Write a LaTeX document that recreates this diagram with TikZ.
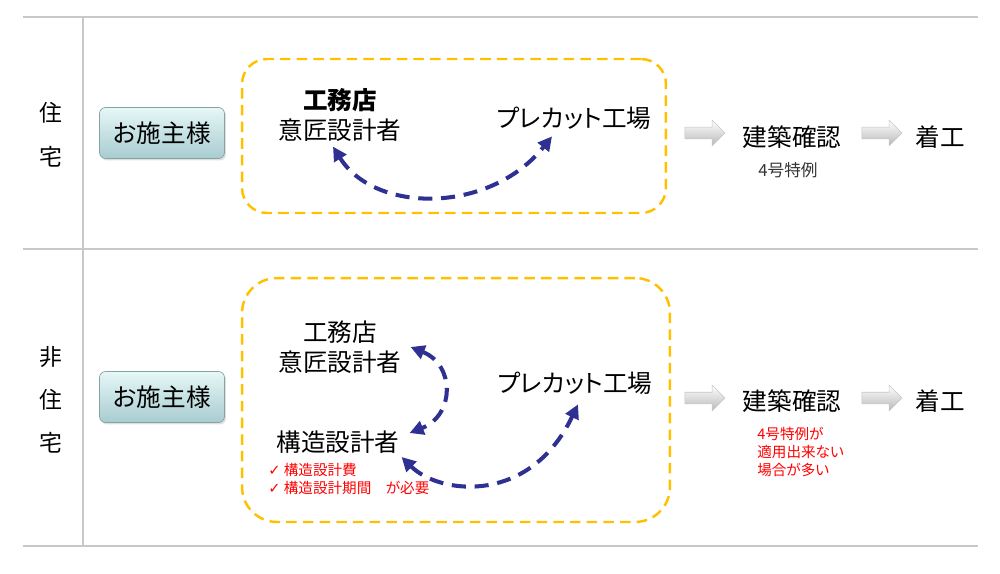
\documentclass[tikz,border=0pt]{standalone}
\usepackage{fontspec}
\setmainfont[RawFeature=+palt]{Noto Sans CJK JP}
\newfontfamily\chkfont{DejaVu Sans}
\usetikzlibrary{arrows.meta, shapes.arrows, shadows}
\definecolor{gold}{HTML}{FFC000}
\definecolor{navy}{HTML}{2E3192}
\definecolor{linegray}{HTML}{C8C8C8}
\definecolor{btntop}{HTML}{E6F7F7}
\definecolor{btnbot}{HTML}{A8CCD0}

\begin{document}
\begin{tikzpicture}[x=0.02cm, y=-0.02cm,
 main node/.style={inner sep=1pt, font=\fontsize{14}{17}\selectfont, align=center},
 side node/.style={inner sep=0pt, font=\fontsize{13}{15}\selectfont},
 note node/.style={inner sep=0pt, font=\fontsize{8.3}{10.2}\selectfont, align=left},
 owner node/.style={draw=btnbot!80!black, line width=0.4pt, rounded corners=0.12cm,
   top color=btntop, bottom color=btnbot, minimum width=2.5cm, minimum height=1.02cm,
   drop shadow={opacity=0.25, shadow xshift=0.03cm, shadow yshift=-0.04cm},
   font=\fontsize{14}{17}\selectfont},
 group box/.style={draw=gold, line width=1.4pt, dash pattern=on 6pt off 3.5pt},
 flow/.style={draw=navy, line width=2.3pt, dash pattern=on 8pt off 5pt,
   {Triangle[length=8pt,width=8pt]}-{Triangle[length=8pt,width=8pt]}},
 blockarrow/.style={single arrow, single arrow head extend=0.14cm, minimum height=0.8cm,
   inner xsep=0pt, inner ysep=0.11cm, draw=gray!45, line width=0.3pt,
   top color=white, bottom color=gray!55}]

  \useasboundingbox (0,0) rectangle (1000,574);

  \draw[linegray, line width=1.1pt] (23,17) -- (978,17);
  \draw[linegray, line width=1.1pt] (23,249) -- (978,249);
  \draw[linegray, line width=1.1pt] (23,546) -- (978,546);
  \draw[linegray, line width=1.1pt] (83,17) -- (83,546);

  \foreach \ch/\y in {住/113, 宅/157, 非/357, 住/400, 宅/443} {
   \node[side node] (r\y) at (51,\y) {\ch};}

  % 住宅
  \node[owner node] (owner1) at (162,133) {お施主様};
  \node[group box, rounded corners=0.5cm, minimum width=8.48cm, minimum height=3.08cm] (grp1) at (454,136) {};
  \node[main node] (kt1) at (340,115) {\textbf{工務店}\\意匠設計者};
  \node[main node] (pc1) at (574,118) {プレカット工場};
  \node[blockarrow] (ba1) at (702,133) {};
  \node[main node] (kk1) at (792,137) {建築確認};
  \node[blockarrow] (bb1) at (879,133) {};
  \node[main node] (ck1) at (940,137) {着工};
  \node[note node, font=\fontsize{9.5}{11}\selectfont, text=black!80] (tr1) at (788,170) {4号特例};

  \draw[flow] ([xshift=-0.14cm, yshift=-0.06cm]kt1.south) .. controls (375,214) and (490,214) .. ([xshift=-0.44cm, yshift=-0.1cm]pc1.south);

  % 非住宅
  \node[owner node] (owner2) at (162,397) {お施主様};
  \node[group box, rounded corners=0.7cm, minimum width=8.56cm, minimum height=4.88cm] (grp2) at (456,400) {};
  \node[main node] (kt2) at (340,347) {工務店\\意匠設計者};
  \node[main node] (kz) at (338,442) {構造設計者};
  \node[note node, text=red, anchor=west] (need) at (268,479) {{\chkfont ✓}\ 構造設計費\\{\chkfont ✓}\ 構造設計期間　が必要};
  \node[main node] (pc2) at (575,383) {プレカット工場};
  \node[blockarrow] (ba2) at (702,398) {};
  \node[main node] (kk2) at (792,401) {建築確認};
  \node[blockarrow] (bb2) at (879,398) {};
  \node[main node] (ck2) at (940,401) {着工};
  \node[note node, text=red, anchor=north west] (tr2) at (757,427) {4号特例が\\適用出来ない\\場合が多い};

  \draw[flow] ([xshift=0.14cm]kt2.east) .. controls (455,365) and (455,415) .. ([xshift=0.16cm, yshift=0.18cm]kz.east);
  \draw[flow] ([yshift=-0.3cm]kz.east) .. controls (440,495) and (530,505) .. ([xshift=0.06cm, yshift=-0.16cm]pc2.south);
\end{tikzpicture}
\end{document}
